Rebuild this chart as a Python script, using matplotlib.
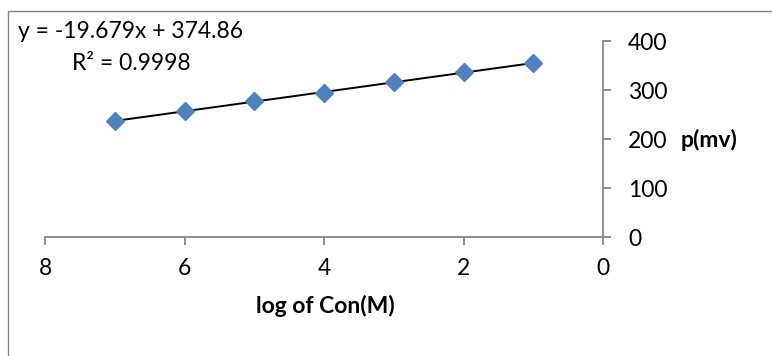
import numpy as np
import matplotlib
matplotlib.use("Agg")
import matplotlib.pyplot as plt
from matplotlib.patches import Rectangle

log_con = [7, 6, 5, 4, 3, 2, 1]
p_mv = [237, 258, 277, 295, 316, 336, 355]
x_ticks = [8, 6, 4, 2, 0]
y_ticks = [0, 100, 200, 300, 400]
slope, intercept = -19.679, 374.86

plt.rcParams['font.family'] = ['Lato', 'DejaVu Sans']
grey = '#868686'
fs = 16.5

fig = plt.figure(figsize=(7.72, 3.56), dpi=100)
ax = fig.add_axes([45/772, 1-237.3/356, (603-45)/772, (237.3-41)/356])

# outer chart border (cut off on right and bottom, like the reference)
fig.patches.append(Rectangle((8/772, -0.2), 1.5, 0.2+1-11/356, transform=fig.transFigure,
                             fill=False, edgecolor=grey, linewidth=1.0))

xl = np.array([min(log_con), max(log_con)])
ax.plot(xl, slope*xl + intercept, color='black', lw=1.4, zorder=2)
ax.plot(log_con, p_mv, linestyle='none', marker='D', markersize=9.5,
        color='#4F81BD', zorder=3, clip_on=False)

ax.set_xlim(8, 0)
ax.set_ylim(0, 400)
ax.set_xticks(x_ticks)
ax.set_yticks(y_ticks)
ax.spines['top'].set_visible(False)
ax.spines['left'].set_visible(False)
for s in ['bottom', 'right']:
    ax.spines[s].set_color(grey)
    ax.spines[s].set_linewidth(1.3)
ax.yaxis.tick_right()
ax.tick_params(axis='both', direction='out', length=6, width=1.3, color=grey,
               labelsize=fs, labelcolor='black')
ax.tick_params(axis='x', pad=9)
ax.tick_params(axis='y', pad=12)
ax.patch.set_alpha(0)

fig.text(325/772, 1-306/356, 'log of Con(M)', ha='center', va='center',
         fontsize=fs, fontweight='bold')
fig.text(681/772, 1-140/356, 'p(mv)', ha='left', va='center',
         fontsize=fs, fontweight='bold')
fig.text(18/772, 1-32/356, 'y = -19.679x + 374.86', ha='left', va='center', fontsize=fs)
fig.text(72/772, 1-64/356, 'R² = 0.9998', ha='left', va='center', fontsize=fs)

fig.savefig('out.png', dpi=100)
